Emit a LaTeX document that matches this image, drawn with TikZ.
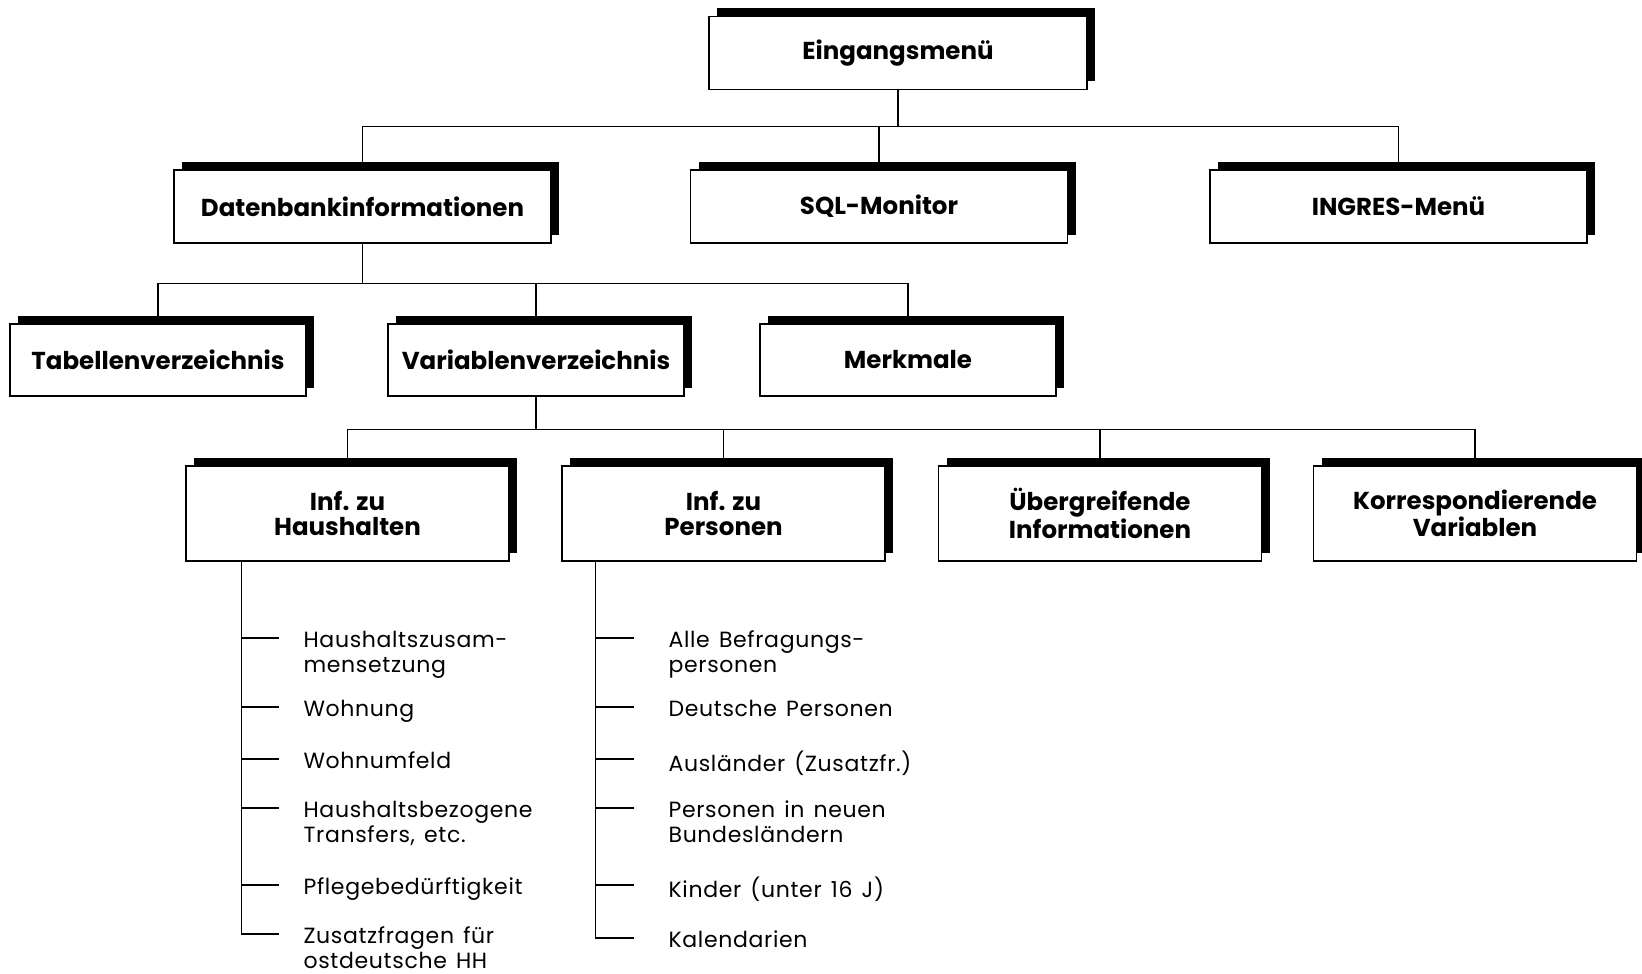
\documentclass[tikz,border=0pt]{standalone}
\usepackage{fontspec}
\setmainfont{Poppins}
\newfontfamily\itemfamily{Poppins}[LetterSpace=3, WordSpace=1.4]
\usetikzlibrary{shadows}

\newcommand\boxfont{\fontsize{24.5}{25}\selectfont\bfseries}
\newcommand\itemfont{\itemfamily\fontsize{22}{25}\selectfont}

\tikzset{
  basic/.style   = {draw, rectangle, fill=white, line width=1.2pt, align=center, font=\boxfont,
                    drop shadow={shadow xshift=8pt, shadow yshift=8pt, shadow scale=1, fill=black, opacity=1}},
  root/.style    = {basic, minimum width=378pt, minimum height=73pt},
  level 1/.style = {basic, minimum width=377pt, minimum height=73pt},
  level 2/.style = {basic, minimum width=296pt, minimum height=72pt},
  level 3/.style = {basic, minimum width=323pt, minimum height=95pt},
  item/.style    = {anchor=north west, inner sep=0pt, align=left, font=\itemfont}
}

\begin{document}
\begin{tikzpicture}[x=1pt, y=-1pt, node distance=153.5pt, line width=1.2pt]
\useasboundingbox (0,0) rectangle (1642,974);

\node[root] (m) at (898,53) {Eingangsmenü};

% The second level, relatively positioned nodes
\begin{scope}[every node/.style={level 1}]
\node [below of = m, xshift=-535.5pt] (m1) {Datenbankinformationen};
\node [below of = m, xshift=-19pt] (m2) {SQL-Monitor};
\node [below of = m, xshift=500.5pt] (m3) {INGRES-Menü};
\end{scope}

\begin{scope}[every node/.style={level 2}]
\node [below of = m1, xshift=-204.5pt] (m11) {Tabellenverzeichnis};
\node [below of = m1, xshift=173.5pt] (m12) {Variablenverzeichnis};
\node [below of = m1, xshift=545.5pt] (m13) {Merkmale};
\end{scope}

\begin{scope}[every node/.style={level 3}]
\node [below of = m12, xshift=-188.5pt] (m121) {Inf. zu\\Haushalten};
\node [below of = m12, xshift=187.5pt] (m122) {Inf. zu\\Personen};
\node [below of = m12, xshift=564pt] (m123) {Übergreifende\\Informationen};
\node [below of = m12, xshift=939pt] (m124) {Korrespondierende\\Variablen};
\end{scope}

% the two lists below the third level
\coordinate (hh) at ([xshift=56pt]m121.south west);
\coordinate (ps) at ([xshift=34pt]m122.south west);

\foreach \value/\y in {1/638,2/707,3/759,4/808,5/885,6/934}
  \coordinate (t121\value) at (279,\y);
\foreach \value/\y in {1/638,2/707,3/759,4/808,5/885,6/938}
  \coordinate (t122\value) at (634,\y);

\begin{scope}[every node/.style={item}]
\node at ([xshift=24pt, yshift=8.5pt]t1211) (m1211) {\strut Haushaltszusam-\\mensetzung};
\node at ([xshift=24pt, yshift=8.5pt]t1212) (m1212) {\strut Wohnung};
\node at ([xshift=24pt, yshift=8.5pt]t1213) (m1213) {\strut Wohnumfeld};
\node at ([xshift=24pt, yshift=8.5pt]t1214) (m1214) {\strut Haushaltsbezogene\\Transfers, etc.};
\node at ([xshift=24pt, yshift=8.5pt]t1215) (m1215) {\strut Pflegebedürftigkeit};
\node at ([xshift=24pt, yshift=8.5pt]t1216) (m1216) {\strut Zusatzfragen für\\ostdeutsche HH};

\node at ([xshift=34pt, yshift=8.5pt]t1221) (m1221) {\strut Alle Befragungs-\\personen};
\node at ([xshift=34pt, yshift=8.5pt]t1222) (m1222) {\strut Deutsche Personen};
\node at ([xshift=34pt, yshift=8.5pt]t1223) (m1223) {\strut Ausländer (Zusatzfr.)};
\node at ([xshift=34pt, yshift=8.5pt]t1224) (m1224) {\strut Personen in neuen\\Bundesländern};
\node at ([xshift=34pt, yshift=8.5pt]t1225) (m1225) {\strut Kinder (unter 16 J)};
\node at ([xshift=34pt, yshift=8.5pt]t1226) (m1226) {\strut Kalendarien};
\end{scope}

\foreach \value in {1,...,3}
  \draw (m.south) -- ++(0,36.5) -| (m\value.north);

\foreach \value in {1,...,3}
  \draw (m1.south) -- ++(0,40) -| (m1\value.north);

\foreach \value in {1,...,4}
  \draw (m12.south) -- ++(0,33) -| (m12\value.north);

\draw (hh) |- (t1216);
\foreach \value in {1,...,5}
  \draw (hh |- t121\value) -- (t121\value);

\draw (ps) |- (t1226);
\foreach \value in {1,...,5}
  \draw (ps |- t122\value) -- (t122\value);

\end{tikzpicture}
\end{document}
